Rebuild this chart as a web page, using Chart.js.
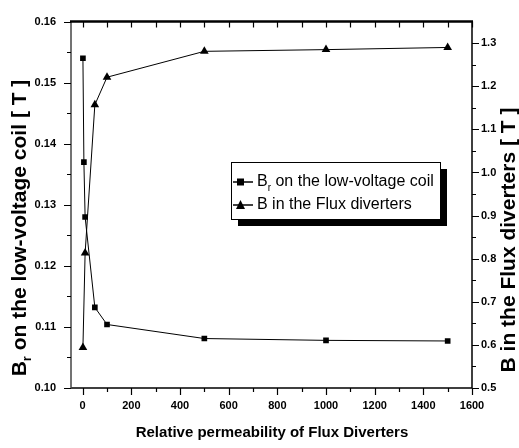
<!DOCTYPE html>
<html>
<head>
<meta charset="utf-8">
<script src="https://cdn.jsdelivr.net/npm/chart.js@4.4.1/dist/chart.umd.min.js"></script>
<style>
html,body{margin:0;padding:0;background:#fff;}
#wrap{width:519px;height:448px;position:relative;}
</style>
</head>
<body>
<div id="wrap"><canvas id="c" width="519" height="448"></canvas></div>
<script>
// ---- data ----
const permSquares = [1, 5, 10, 50, 100, 500, 1000, 1500];
const brCoil = [0.154, 0.137, 0.128, 0.1132, 0.1104, 0.1081, 0.1078, 0.1077];
const permTriangles = [1, 10, 50, 100, 500, 1000, 1500];
const bDiverters = [0.594, 0.813, 1.157, 1.221, 1.281, 1.285, 1.29];
const xTickValues = [0, 200, 400, 600, 800, 1000, 1200, 1400, 1600];
const yLeftTickValues = [0.10, 0.11, 0.12, 0.13, 0.14, 0.15, 0.16];
const yRightTickValues = [0.5, 0.6, 0.7, 0.8, 0.9, 1.0, 1.1, 1.2, 1.3];
const xTitle = 'Relative permeability of Flux Diverters';
const yLeftTitle = ['B', 'r', ' on the low-voltage coil [ T ]'];
const yRightTitle = 'B in the Flux diverters [ T ]';
const legendLabels = [['B', 'r', ' on the low-voltage coil'], ['B in the Flux diverters', '', '']];

const FONT = '"Liberation Sans", Arial, sans-serif';

function drawSub(ctx, parts, x, y, bigFont, smallFont, align, subShift) {
  ctx.font = bigFont;
  const w0 = ctx.measureText(parts[0]).width;
  const w2 = ctx.measureText(parts[2]).width;
  ctx.font = smallFont;
  const w1 = ctx.measureText(parts[1]).width;
  const total = w0 + w1 + w2;
  let sx = align === 'center' ? x - total / 2 : x;
  ctx.textAlign = 'left';
  ctx.textBaseline = 'middle';
  ctx.font = bigFont;
  ctx.fillText(parts[0], sx, y);
  ctx.font = smallFont;
  ctx.fillText(parts[1], sx + w0, y + subShift);
  ctx.font = bigFont;
  ctx.fillText(parts[2], sx + w0 + w1, y);
}

const decor = {
  id: 'decor',
  afterDraw(chart) {
    const ctx = chart.ctx;
    const a = chart.chartArea;
    const xs = chart.scales.x, yl = chart.scales.y, yr = chart.scales.y1;
    ctx.save();
    ctx.strokeStyle = '#000';
    // axis lines
    ctx.lineWidth = 1.5;
    ctx.beginPath();
    ctx.moveTo(a.left, a.bottom); ctx.lineTo(a.right, a.bottom);
    ctx.moveTo(a.right, a.top); ctx.lineTo(a.right, a.bottom);
    ctx.stroke();
    ctx.strokeStyle = '#444';
    ctx.beginPath();
    ctx.moveTo(a.left, a.top); ctx.lineTo(a.left, a.bottom);
    ctx.stroke();
    ctx.strokeStyle = '#000';
    ctx.lineWidth = 2.5;
    ctx.beginPath();
    ctx.moveTo(a.left - 1, a.top); ctx.lineTo(a.right + 1, a.top);
    ctx.stroke();
    // ticks
    ctx.lineWidth = 1.2;
    ctx.beginPath();
    for (let v = 0; v <= 1600; v += 100) {
      const px = Math.round(xs.getPixelForValue(v)) + 0.5;
      const major = v % 200 === 0;
      ctx.moveTo(px, a.bottom); ctx.lineTo(px, a.bottom + (major ? 7 : 4));
      ctx.moveTo(px, a.top); ctx.lineTo(px, a.top + 6);
    }
    for (let i = 0; i <= 12; i++) {
      const v = 0.10 + i * 0.005;
      const py = Math.round(yl.getPixelForValue(v)) + 0.5;
      ctx.moveTo(a.left, py); ctx.lineTo(a.left - (i % 2 === 0 ? 7 : 4), py);
    }
    for (let i = 0; i <= 16; i++) {
      const v = 0.5 + i * 0.05;
      const py = Math.round(yr.getPixelForValue(v)) + 0.5;
      ctx.moveTo(a.right, py); ctx.lineTo(a.right + (i % 2 === 0 ? 7 : 4), py);
    }
    ctx.stroke();

    // axis titles
    ctx.fillStyle = '#000';
    ctx.font = 'bold 15px ' + FONT;
    ctx.textAlign = 'center';
    ctx.textBaseline = 'middle';
    ctx.fillText(xTitle, 272, 433);

    ctx.save();
    ctx.translate(20, 228);
    ctx.rotate(-Math.PI / 2);
    drawSub(ctx, yLeftTitle, 0, 0, 'bold 21px ' + FONT, 'bold 13px ' + FONT, 'center', 7);
    ctx.restore();

    ctx.save();
    ctx.translate(509, 240);
    ctx.rotate(-Math.PI / 2);
    ctx.font = 'bold 21px ' + FONT;
    ctx.textAlign = 'center';
    ctx.textBaseline = 'middle';
    ctx.fillText(yRightTitle, 0, 0);
    ctx.restore();

    // legend
    const lx = 231, ly = 162, lw = 209, lh = 57;
    ctx.fillStyle = '#000';
    ctx.fillRect(lx + 7, ly + 7, lw, lh);
    ctx.fillStyle = '#fff';
    ctx.fillRect(lx, ly, lw, lh);
    ctx.lineWidth = 1;
    ctx.strokeStyle = '#000';
    ctx.strokeRect(lx + 0.5, ly + 0.5, lw, lh);
    const rows = [182, 205];
    ctx.fillStyle = '#000';
    rows.forEach((ry, i) => {
      ctx.lineWidth = 1.5;
      ctx.beginPath();
      ctx.moveTo(233, ry); ctx.lineTo(253, ry);
      ctx.stroke();
      if (i === 0) {
        ctx.fillRect(237, ry - 3.5, 7, 7);
      } else {
        ctx.beginPath();
        ctx.moveTo(240.5, ry - 5); ctx.lineTo(245, ry + 4); ctx.lineTo(236, ry + 4);
        ctx.closePath(); ctx.fill();
      }
      drawSub(ctx, legendLabels[i], 257, ry, '16px ' + FONT, '10px ' + FONT, 'left', 6);
    });
    ctx.restore();
  }
};

const tickFont = { family: FONT, size: 11, weight: 'bold' };

new Chart(document.getElementById('c'), {
  type: 'line',
  data: {
    datasets: [
      {
        label: 'Br on the low-voltage coil',
        data: permSquares.map((x, i) => ({ x: x, y: brCoil[i] })),
        yAxisID: 'y',
        borderColor: '#000',
        backgroundColor: '#000',
        borderWidth: 1,
        pointStyle: 'rect',
        pointRadius: 4,
        pointBorderWidth: 0,
        tension: 0
      },
      {
        label: 'B in the Flux diverters',
        data: permTriangles.map((x, i) => ({ x: x, y: bDiverters[i] })),
        yAxisID: 'y1',
        borderColor: '#000',
        backgroundColor: '#000',
        borderWidth: 1,
        pointStyle: 'triangle',
        pointRadius: 5,
        pointBorderWidth: 0,
        tension: 0
      }
    ]
  },
  options: {
    responsive: false,
    animation: false,
    events: [],
    layout: { padding: { left: 0, right: 0, top: 17, bottom: 0 } },
    plugins: { legend: { display: false }, tooltip: { enabled: false } },
    scales: {
      x: {
        type: 'linear',
        position: 'bottom',
        min: -48,
        max: 1600,
        afterBuildTicks: s => { s.ticks = xTickValues.map(v => ({ value: v })); },
        afterFit: s => { s.height = 60; },
        grid: { display: false, drawTicks: false },
        border: { display: false },
        ticks: { font: tickFont, color: '#000', padding: 11, maxRotation: 0, callback: v => String(v) }
      },
      y: {
        type: 'linear',
        position: 'left',
        min: 0.10,
        max: 0.16,
        afterBuildTicks: s => { s.ticks = yLeftTickValues.map(v => ({ value: v })); },
        afterFit: s => { s.width = 71; },
        grid: { display: false, drawTicks: false },
        border: { display: false },
        ticks: { font: tickFont, color: '#000', padding: 15, callback: v => Number(v).toFixed(2) }
      },
      y1: {
        type: 'linear',
        position: 'right',
        min: 0.5,
        max: 1.35,
        afterBuildTicks: s => { s.ticks = yRightTickValues.map(v => ({ value: v })); },
        afterFit: s => { s.width = 47; },
        grid: { display: false, drawTicks: false },
        border: { display: false },
        ticks: { font: tickFont, color: '#000', padding: 9, callback: v => Number(v).toFixed(1) }
      }
    }
  },
  plugins: [decor]
});
</script>
</body>
</html>
